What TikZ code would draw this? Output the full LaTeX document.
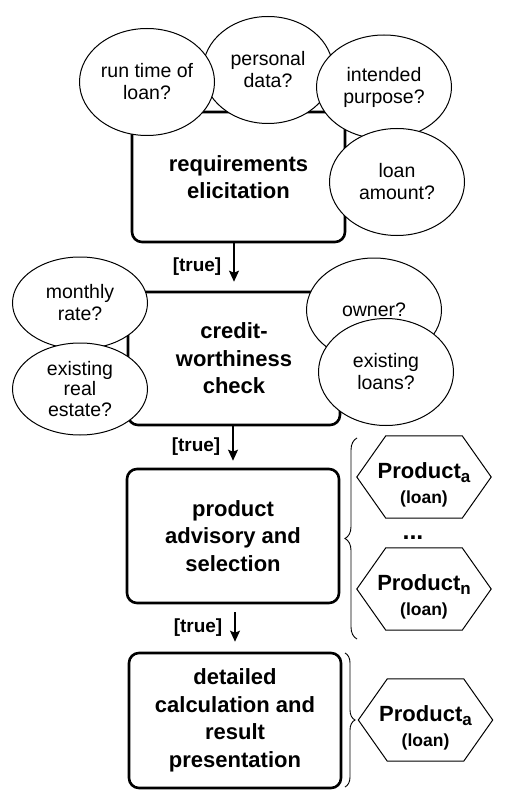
\documentclass[tikz,border=0pt]{standalone}
\usepackage{fontspec}
\setmainfont{Liberation Sans}
\usetikzlibrary{shapes.geometric,decorations.pathreplacing,arrows.meta}

\begin{document}
\begin{tikzpicture}[x=1pt,y=-1pt,
    phase/.style={draw, line width=2.6pt, rounded corners=10pt, minimum width=212pt, inner sep=0pt, align=center, font=\fontsize{22}{27.5}\selectfont\bfseries},
    question/.style={ellipse, draw, fill=white, line width=1pt, minimum width=135pt, minimum height=106pt, inner sep=0pt, align=center, font=\fontsize{19.5}{22}\selectfont},
    product/.style={minimum width=134pt, minimum height=82pt, inner sep=0pt, align=center, font=\fontsize{22}{25}\selectfont\bfseries},
    flow/.style={-{Stealth[length=11pt,width=10pt,inset=2pt]}, line width=1.4pt},
    guard/.style={left=12pt, inner sep=0pt, font=\fontsize{19}{22}\selectfont\bfseries},
    bracket/.style={decorate, line width=0.9pt}]
    \useasboundingbox (0,0) rectangle (521,810);

    % Phases
    \node[phase, minimum width=213pt, minimum height=130pt] (req) at (238.5,177) {requirements\\elicitation};
    \node[phase, minimum height=133pt] (credit) at (234,358.5) {credit-\\worthiness\\check};
    \node[phase, minimum height=134pt] (advisory) at (233,536) {product\\advisory and\\selection};
    \node[phase, minimum height=135pt] (calc) at (235,720.5) {detailed\\calculation and\\result\\presentation};

    % Questions of the first phase
    \node[question, minimum width=130pt, minimum height=107pt] (pdata) at (268,70) {personal\\data?};
    \node[question, minimum height=107pt] (runtime) at (147,82) {run time of\\loan?};
    \node[question, minimum height=104pt] (purpose) at (384,87) {intended\\purpose?};
    \node[question, minimum height=107pt] (amount) at (397,182) {loan\\amount?};

    % Questions of the second phase
    \node[question, minimum height=92pt] (mrate) at (80,303) {monthly\\rate?};
    \node[question, minimum height=92pt, font=\fontsize{19.5}{20.5}\selectfont] (estate) at (80,389) {existing\\real\\estate?};
    \node[question, minimum height=104pt] (owner) at (374,310) {owner?};
    \node[question, minimum height=107pt] (eloans) at (386,372) {existing\\loans?};

    % Flow
    \draw[flow, shorten >=9pt] (req.south -| credit.north) -- (credit.north) node[guard, midway] {[true]};
    \draw[flow, shorten >=7pt] (credit.south -| advisory.north) -- (advisory.north) node[guard, midway] {[true]};
    \draw[flow, shorten <=8pt, shorten >=10pt] (advisory.south -| calc.north) -- (calc.north) node[guard, midway] {[true]};

    % Products
    \node[product] (prodA) at (424,485) {Product\raisebox{-4pt}{\fontsize{17}{17}\selectfont a}\\{\fontsize{17.5}{20}\selectfont (loan)}};
    \node[font=\fontsize{25}{25}\selectfont\bfseries] (dots) at (413,538) {...};
    \node[product] (prodN) at (424,597) {Product\raisebox{-4pt}{\fontsize{17}{17}\selectfont n}\\{\fontsize{17.5}{20}\selectfont (loan)}};
    \node[product] (prodB) at (425.5,728) {Product\raisebox{-4pt}{\fontsize{17}{17}\selectfont a}\\{\fontsize{17.5}{20}\selectfont (loan)}};
    \foreach \h in {prodA,prodN,prodB}
        \draw[line width=1pt] ([yshift=8pt]\h.west) -- ([xshift=29pt,yshift=8pt]\h.north west) -- ([xshift=-29pt,yshift=8pt]\h.north east)
            -- ([yshift=8pt]\h.east) -- ([xshift=-29pt,yshift=8pt]\h.south east) -- ([xshift=29pt,yshift=8pt]\h.south west) -- cycle;

    % Braces
    \draw[bracket, decoration={brace, amplitude=12pt}] (357,639) -- (357,438);
    \draw[bracket, decoration={brace, amplitude=10pt}] (345,653) -- (345,787);

\end{tikzpicture}
\end{document}
